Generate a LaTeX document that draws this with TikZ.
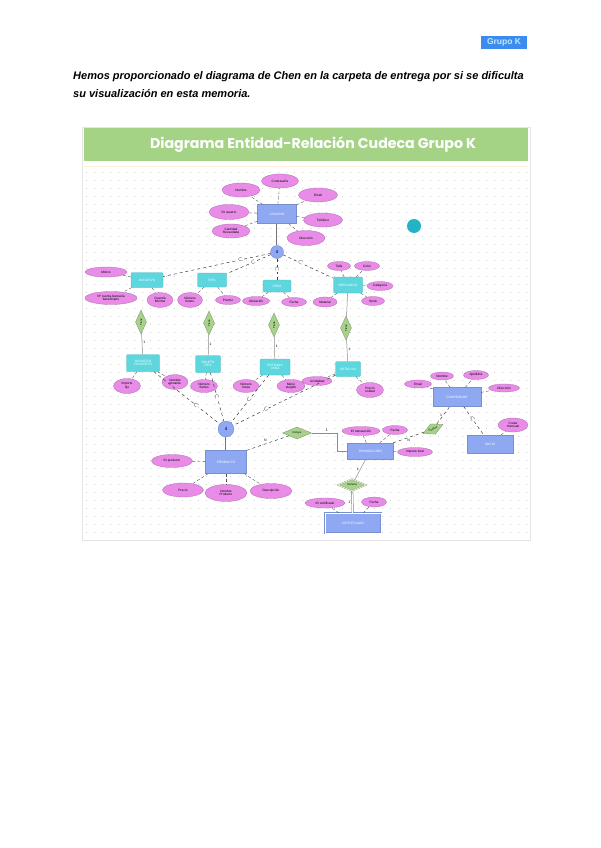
\documentclass[tikz,border=0pt]{standalone}
\usepackage{fontspec}
\setmainfont{Liberation Sans}
\newfontfamily\titlefont{Poppins}
\usetikzlibrary{shapes.geometric,arrows.meta,positioning,calc}
\definecolor{entblue}{RGB}{143,168,242}
\definecolor{subcyan}{RGB}{94,214,222}
\definecolor{attpink}{RGB}{232,140,232}
\definecolor{relgreen}{RGB}{168,210,140}
\definecolor{titlegreen}{RGB}{164,211,134}
\definecolor{grupoblue}{RGB}{60,140,240}
\definecolor{dotteal}{RGB}{34,180,198}
\newcommand{\tinyfont}{\fontsize{3.2}{3.6}\selectfont}

\begin{document}
\begin{tikzpicture}[x=1pt,y=-1pt,
  ent/.style={rectangle,fill=entblue,draw=entblue!85!black,line width=0.3pt,
              text=white,font=\tinyfont,inner sep=0pt,align=center},
  subent/.style={rectangle,rounded corners=1pt,fill=subcyan,draw=subcyan!85!black,
              line width=0.3pt,text=white,font=\tinyfont,inner sep=0pt,align=center},
  att/.style={ellipse,fill=attpink,draw=attpink!75!black,line width=0.3pt,
              font=\tinyfont,inner sep=0pt,align=center},
  relv/.style={diamond,rotate=90,fill=relgreen,draw=relgreen!70!black,line width=0.3pt,
              minimum width=24,minimum height=11,inner sep=0pt,font=\fontsize{2.8}{3}\selectfont},
  relh/.style={diamond,fill=relgreen,draw=relgreen!70!black,line width=0.3pt,
              inner sep=0pt,font=\fontsize{2.8}{3}\selectfont},
  isa/.style={circle,fill=entblue,draw=entblue!80!black,line width=0.3pt,
              inner sep=0pt,text=blue!40!black,font=\fontsize{4.5}{5}\selectfont},
  attline/.style={densely dashed,draw=black!70,line width=0.35pt},
  isaline/.style={dashed,draw=black!75,line width=0.5pt},
  relline/.style={draw=black!45,line width=0.5pt},
  dbl/.style={draw=black!55,line width=0.5pt,double=white,double distance=1pt},
  isamark/.style={sloped,inner sep=0pt,fill=white,font=\fontsize{5}{5}\selectfont},
  lbl/.style={inner sep=1pt,font=\fontsize{3.5}{4}\selectfont}
]
\fill[white] (0,0) rectangle (600,848);
\useasboundingbox (0,0) rectangle (600,848);

% cabecera
\node[fill=grupoblue,text=cyan!25!white,font=\bfseries\fontsize{8.5}{9}\selectfont,
      minimum width=46,minimum height=13,inner sep=0pt] (grupo) at (504,42.5) {Grupo K};
\node[anchor=west,inner sep=0pt,font=\bfseries\itshape\fontsize{11}{13}\selectfont] (intro1)
  at (73,77) {Hemos proporcionado el diagrama de Chen en la carpeta de entrega por si se dificulta};
\node[anchor=west,inner sep=0pt,font=\bfseries\itshape\fontsize{11}{13}\selectfont] (intro2)
  at (73,94) {su visualización en esta memoria.};

% lienzo
\draw[black!10,fill=white] (82,127) rectangle (530,540);
\foreach \gy in {172,180,...,536}
  \draw[black!18,line width=0.5pt,dash pattern=on 0.5pt off 7.5pt] (86,\gy) -- (528,\gy);
\fill[titlegreen] (84,128) rectangle (528,161);
\node[inner sep=0pt,text=white,font=\titlefont\bfseries\fontsize{14.2}{16}\selectfont]
  (titulo) at (313,144.5) {Diagrama Entidad-Relación Cudeca Grupo K};
\draw[orange!15,line width=0.8pt] (84,166) -- (528,166);
\fill[dotteal] (414,226) circle (7);

% usuario
\node[ent,minimum width=39,minimum height=19] (usuario) at (277,214) {USUARIO};
\node[att,minimum width=38,minimum height=14] (unombre) at (241,190) {Nombre};
\node[att,minimum width=37,minimum height=14] (upass)   at (280,181) {Contraseña};
\node[att,minimum width=39,minimum height=14] (uemail)  at (318,195) {Email};
\node[att,minimum width=40,minimum height=15] (uid)     at (229,212) {ID usuario};
\node[att,minimum width=39,minimum height=14] (utel)    at (323,220) {Teléfono};
\node[att,minimum width=38,minimum height=14] (ucant)   at (231,231) {Cantidad\\Recaudada};
\node[att,minimum width=38,minimum height=15] (udir)    at (306,238) {Dirección};
\foreach \a in {unombre,upass,uemail,uid,utel,ucant,udir}
  \draw[attline] (usuario) -- (\a);

\node[isa,minimum size=13] (isa1) at (277,252) {d};
\draw[dbl] (usuario) -- (isa1);

% subclases superiores
\node[subent,minimum width=32,minimum height=15] (donativo)  at (147,280) {DONATIVO};
\node[subent,minimum width=29,minimum height=14] (rifa)      at (212,280) {RIFA};
\node[subent,minimum width=28,minimum height=12] (cena)      at (277,286) {CENA};
\node[subent,minimum width=29,minimum height=16] (mercancia) at (348,285) {MERCANCÍA};

\draw[isaline] (isa1) -- node[isamark,pos=0.28]{$\subset$} (donativo);
\draw[isaline] (isa1) -- node[isamark,pos=0.4]{$\subset$} (rifa);
\draw[isaline] (isa1) -- node[isamark,pos=0.5]{$\subset$} (cena);
\draw[isaline] (isa1) -- node[isamark,pos=0.35]{$\subset$} (mercancia);

\node[att,minimum width=42,minimum height=10] (dmotivo) at (106,272) {Motivo};
\node[att,minimum width=52,minimum height=13] (dcuenta) at (111,298) {Nº cuenta bancaria\\beneficiario};
\node[att,minimum width=26,minimum height=15] (dminimo) at (160,300) {Cuantía\\Mínima};
\node[att,minimum width=25,minimum height=15] (rnum)    at (190,300) {Número\\boleto};
\node[att,minimum width=25,minimum height=9]  (rpremio) at (228,300) {Premio};
\node[att,minimum width=27,minimum height=9]  (cubic)   at (256,301) {Ubicación};
\node[att,minimum width=25,minimum height=9]  (cfecha)  at (294,302) {Fecha};
\node[att,minimum width=23,minimum height=9]  (mtalla)  at (339,266) {Talla};
\node[att,minimum width=25,minimum height=9]  (mcolor)  at (367,266) {Color};
\node[att,minimum width=26,minimum height=9]  (mcat)    at (380,286) {Categoría};
\node[att,minimum width=23,minimum height=9]  (mstock)  at (373,301) {Stock};
\node[att,minimum width=24,minimum height=10] (mmat)    at (325,302) {Material};
\foreach \e/\a in {donativo/dmotivo,donativo/dcuenta,donativo/dminimo,rifa/rnum,rifa/rpremio,
                   cena/cubic,cena/cfecha,mercancia/mtalla,mercancia/mcolor,mercancia/mcat,
                   mercancia/mstock,mercancia/mmat}
  \draw[attline] (\e) -- (\a);

% relaciones verticales
\node[relv] (rel1) at (141,322) {Tiene};
\node[relv] (rel2) at (209,323) {Tiene};
\node[relv] (rel3) at (274,325) {Tiene};
\node[relv] (rel4) at (346,328) {Tiene};

% subclases inferiores
\node[subent,minimum width=33,minimum height=17] (concreto) at (143,363) {DONATIVO\\CONCRETO};
\node[subent,minimum width=25,minimum height=17] (boleto)   at (208,364) {BOLETO\\RIFA};
\node[subent,minimum width=30,minimum height=16] (entrada)  at (275,367) {ENTRADA\\CENA};
\node[subent,minimum width=25,minimum height=15] (articulo) at (348,369) {ARTÍCULO};

\draw[relline] (rel1) -- node[lbl,right,pos=0.45]{1} (concreto);
\draw[relline] (rel2) -- node[lbl,right,pos=0.45]{1} (boleto);
\draw[relline] (rel3) -- node[lbl,right,pos=0.45]{1} (entrada);
\draw[relline] (rel4) -- node[lbl,right,pos=0.45]{1} (articulo);
\draw[relline] (mercancia) -- (rel4);

\node[att,minimum width=27,minimum height=15] (cimporte) at (127,386) {Importe\\fijo};
\node[att,minimum width=26,minimum height=15] (cdonante) at (175,382) {Nombre\\donante};
\node[att,minimum width=27,minimum height=13] (bsorteo)  at (204,386) {Número\\Sorteo};
\node[att,minimum width=26,minimum height=13] (emesa)    at (246,386) {Número\\mesa};
\node[att,minimum width=28,minimum height=13] (emenu)    at (291,386) {Menú\\elegido};
\node[att,minimum width=30,minimum height=9]  (aunid)    at (317,381) {Unidades};
\node[att,minimum width=27,minimum height=15] (aprecio)  at (370,390) {Precio\\unidad};
\foreach \e/\a in {concreto/cimporte,concreto/cdonante,boleto/bsorteo,entrada/emesa,
                   entrada/emenu,articulo/aunid,articulo/aprecio}
  \draw[attline] (\e) -- (\a);

% producto
\node[isa,minimum size=16] (isa2) at (226,429) {d};
\draw[isaline] (concreto) -- node[isamark,pos=0.64]{$\subset$} (isa2);
\draw[isaline] (boleto)   -- node[isamark,pos=0.5]{$\subset$} (isa2);
\draw[isaline] (entrada)  -- node[isamark,pos=0.52]{$\subset$} (isa2);
\draw[isaline] (articulo) -- node[isamark,pos=0.68]{$\subset$} (isa2);

\node[ent,minimum width=41,minimum height=23] (producto) at (226,462) {PRODUCTO};
\draw[dbl] (isa2) -- (producto);
\node[att,minimum width=41,minimum height=13] (pid)    at (172,461) {ID producto};
\node[att,minimum width=41,minimum height=14] (pprec)  at (183,490) {Precio};
\node[att,minimum width=42,minimum height=17] (pnom)   at (226,493) {Nombre\\Producto};
\node[att,minimum width=42,minimum height=15] (pdesc)  at (271,491) {Descripción};
\foreach \a in {pid,pprec,pnom,pdesc}
  \draw[attline] (producto) -- (\a);

% transaccion
\node[relh,minimum width=29,minimum height=12] (incluye) at (297,433) {Incluye};
\draw[isaline] (producto.north east) -- node[lbl,above left]{N} (incluye);
\node[ent,minimum width=46,minimum height=16] (transaccion) at (370,451) {TRANSACCIÓN};
\coordinate (codo) at (337,451);
\draw[relline] (incluye.east) -| node[lbl,above,pos=0.3]{1} (codo) -- (transaccion.west);
\node[att,minimum width=38,minimum height=9] (tid)    at (361,431) {ID transacción};
\node[att,minimum width=25,minimum height=9] (tfecha) at (395,430) {Fecha};
\node[att,minimum width=35,minimum height=9] (timp)   at (415,452) {Importe total};
\foreach \a in {tid,tfecha,timp}
  \draw[attline] (transaccion) -- (\a);

% comprador
\node[ent,minimum width=48,minimum height=19] (comprador) at (457,397) {COMPRADOR};
\node[att,minimum width=27,minimum height=8] (cemail) at (418,384) {Email};
\node[att,minimum width=23,minimum height=8] (cnom)   at (442,376) {Nombre};
\node[att,minimum width=25,minimum height=9] (cape)   at (476,375) {Apellidos};
\node[att,minimum width=31,minimum height=8] (cdir)   at (504,388) {Dirección};
\foreach \a in {cemail,cnom,cape,cdir}
  \draw[attline] (comprador) -- (\a);
\node[relh,rotate=25,minimum width=22,minimum height=11] (realiza) at (433,429) {Realiza};
\draw[isaline] (transaccion.north east) -- node[lbl,below]{N} (realiza);
\draw[isaline] (realiza) -- node[lbl,left]{1} (comprador);

\node[ent,minimum width=46,minimum height=18] (socio) at (490,444) {SOCIO};
\node[att,minimum width=30,minimum height=14] (scuota) at (513,425) {Cuota\\mensual};
\draw[attline] (socio) -- (scuota);
\draw[isaline] (comprador) -- node[isamark,pos=0.45]{$\subset$} (socio);

% certificado
\node[relh,minimum width=28,minimum height=12,double=white,double distance=0.6pt] (genera) at (352,485) {Genera};
\draw[relline] (transaccion) -- node[lbl,left]{1} (genera);
\node[ent,minimum width=56,minimum height=20,double=white,double distance=0.8pt] (certificado) at (353,523) {CERTIFICADO};
\draw[dbl] (genera) -- node[lbl,left=1pt]{1} (certificado);
\node[att,minimum width=40,minimum height=10] (ceid)    at (325,503) {ID certificado};
\node[att,minimum width=25,minimum height=10] (cefecha) at (374,502) {Fecha};
\foreach \a in {ceid,cefecha}
  \draw[attline] (certificado) -- (\a);
\end{tikzpicture}
\end{document}
